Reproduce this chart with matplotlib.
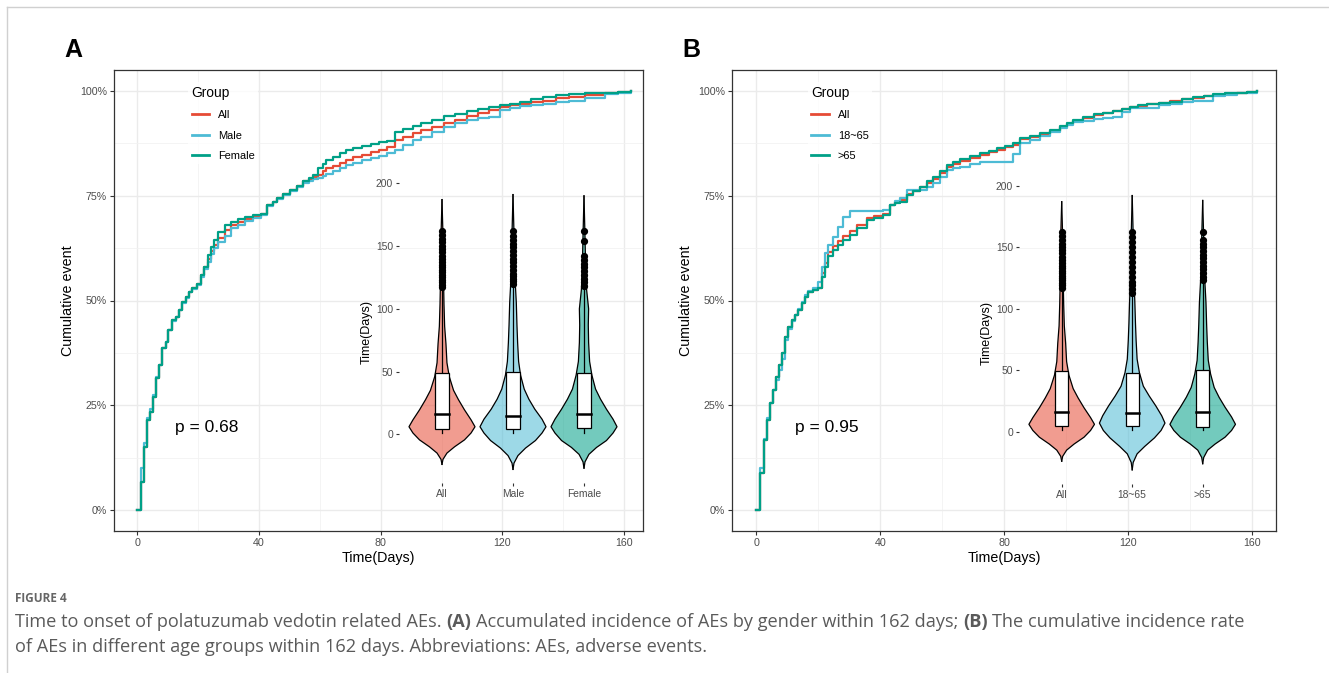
import matplotlib
matplotlib.use("Agg")
import matplotlib.pyplot as plt
from matplotlib.lines import Line2D

W, H = 1329, 673
plt.rcParams['font.family'] = ['Liberation Sans', 'DejaVu Sans']

# ggsci npg colours
COLORS = ['#E64B35', '#4DBBD5', '#00A087']

# ---- panel A: cumulative event by gender
A_GROUPS = ['All', 'Male', 'Female']
A_T = [0, 1.2, 2.4, 3.2, 4.3, 5.3, 6.2, 7.3, 8.3, 9.4, 10.3, 11.4, 12.7, 13.7, 14.8, 15.9,
       17.0, 18.0, 19.6, 21.1, 22.1, 23.4, 24.3, 25.3, 26.6, 28.8, 30.9, 33.0, 35.3,
       38, 40.6, 42.8, 44.5, 45.9, 48, 50.3, 52.5, 54.6, 56.5,
       57.9, 59.5, 61, 62.2, 64.5, 66.5, 68.6, 71, 74.0, 77,
       79.4, 82, 84.8, 87.5, 90.5, 93.4, 97, 100.9, 104.5, 108.4,
       112, 115.5, 119.2, 122.5, 125.7, 129.5, 133.2, 137.5, 141.8, 147,
       153.6, 158, 162.3]
A_ALL = [0, .068, .15, .215, .235, .27, .315, .346, .386, .40, .43, .453, .46, .477, .497, .509,
         .521, .53, .54, .56, .58, .600, .618, .632, .650, .668, .680, .688, .695,
         .700, .706, .728, .736, .744, .754, .764, .774, .784, .791,
         .795, .80, .808, .815, .822, .829, .835, .842, .848, .854,
         .859, .867, .883, .891, .899, .907, .915, .923, .931, .94,
         .948, .955, .962, .966, .970, .974, .977, .982, .986, .990,
         .996, .998, 1.0]
A_MALE = [0, .10, .16, .22, .24, .275, .318, .346, .386, .40, .43, .45, .46, .477, .495, .507,
          .52, .528, .538, .556, .575, .592, .610, .625, .640, .655, .672, .681, .690,
          .697, .704, .725, .734, .742, .752, .762, .771, .780, .786,
          .79, .792, .798, .803, .810, .817, .823, .829, .835, .840,
          .845, .852, .860, .872, .882, .891, .903, .915, .923, .931,
          .935, .939, .955, .960, .964, .967, .970, .974, .977, .984,
          .992, .996, 1.0]
A_FEMALE = [0, .068, .15, .215, .235, .27, .315, .346, .386, .40, .43, .453, .46, .477, .497, .509,
            .521, .53, .54, .56, .58, .608, .628, .644, .664, .68, .688, .694, .70,
            .703, .706, .728, .736, .744, .754, .764, .774, .784, .792,
            .80, .815, .826, .835, .843, .851, .859, .864, .869, .874,
            .879, .881, .903, .909, .916, .923, .931, .94, .945, .951,
            .956, .961, .967, .970, .974, .98, .986, .99, .993, .994,
            .996, .998, 1.0]

# ---- panel B: cumulative event by age
B_GROUPS = ['All', '18~65', '>65']
B_T = [0, 1.2, 2.4, 3.3, 4.4, 5.2, 6.3, 7.4, 8.1, 9.2, 10.3, 11.4, 12.4, 13.5, 14.6, 15.7,
       16.7, 18.3, 20.0, 21.1, 22.1, 23.2, 24.8, 26.4, 28.0, 30.2, 32.4, 35.6,
       38, 40.9, 43.1, 44.8, 46.3, 48.5, 50.5, 52.8, 55, 57.1,
       59.3, 61.4, 63.5, 65.7, 69, 72.2, 75, 77.6, 80.3, 82.9,
       85.1, 88.3, 91.5, 94.8, 98.0, 100.2, 102.3, 105.5, 108.8, 112,
       115.2, 118, 120.6, 123.3, 126.0, 129.8, 133.5, 137.3, 141.0, 144.3,
       147.5, 151.3, 155.1, 158.3, 161.5]
B_ALL = [0, .088, .167, .215, .255, .286, .318, .346, .374, .414, .437, .453, .465, .477, .493, .509,
         .521, .525, .529, .565, .590, .615, .630, .642, .654, .666, .680, .698,
         .702, .706, .728, .734, .740, .755, .762, .770, .780, .790,
         .804, .818, .826, .833, .840, .848, .854, .860, .866, .872,
         .885, .891, .897, .905, .913, .921, .928, .936, .943, .947,
         .951, .957, .962, .965, .968, .972, .976, .980, .984, .987,
         .990, .993, .996, .998, 1.0]
B_YOUNG = [0, .10, .17, .22, .255, .286, .31, .335, .36, .405, .432, .45, .465, .48, .497, .512,
           .522, .53, .545, .58, .613, .632, .652, .676, .700, .714, .714, .714,
           .714, .716, .728, .737, .745, .764, .764, .764, .772, .780,
           .795, .811, .815, .819, .825, .831, .831, .831, .831, .850,
           .875, .884, .893, .903, .912, .919, .925, .929, .933, .936,
           .939, .950, .959, .959, .959, .967, .970, .973, .977, .977,
           .988, .990, .996, .996, 1.0]
B_OLD = [0, .088, .167, .215, .255, .286, .318, .346, .374, .414, .437, .453, .465, .477, .493, .509,
         .521, .525, .529, .557, .581, .605, .621, .632, .644, .656, .672, .692,
         .698, .704, .728, .732, .736, .752, .762, .772, .784, .795,
         .809, .823, .830, .837, .844, .851, .857, .863, .869, .875,
         .887, .893, .899, .908, .916, .924, .931, .938, .945, .948,
         .951, .957, .962, .966, .970, .972, .974, .980, .985, .989,
         .993, .994, .996, .998, 1.0]

# ---- violin outlines (days, relative half width)
V_ALL_D = [-24, -20, -15, -10, -4.5, 1, 6, 11.5, 19.5, 27.5, 35, 46, 57, 72, 86, 104, 118, 131, 158, 187]
V_ALL_W = [0, .03, .15, .38, .68, .88, 1.0, .88, .68, .5, .35, .22, .15, .12, .08, .06, .05, .04, .03, 0]
V_MALE_D = [-28, -23, -17, -11, -5, 1, 6, 12, 20, 28, 36, 47, 58, 73, 87, 105, 120, 133, 160, 191]
V_MALE_W = [0, .03, .15, .38, .68, .88, 1.0, .88, .66, .48, .34, .23, .17, .14, .12, .10, .07, .05, .03, 0]
V_FEMALE_D = [-27, -22, -16, -10.5, -5, 1, 6, 12, 20, 28, 36, 47, 58, 73, 87, 100, 115, 133, 158, 190]
V_FEMALE_W = [0, .03, .15, .38, .68, .88, 1.0, .88, .68, .5, .35, .24, .17, .14, .13, .14, .08, .05, .03, 0]
V_YOUNG_D = [-31, -25, -18, -12, -5, 1, 7, 13, 21, 29, 37, 48, 59, 74, 88, 106, 120, 134, 160, 192]
V_YOUNG_W = [0, .03, .15, .38, .68, .88, 1.0, .9, .72, .52, .34, .22, .15, .12, .10, .08, .06, .05, .03, 0]
V_OLD_D = [-26, -21, -15, -10, -4.5, 1, 6, 12, 20, 28, 36, 47, 58, 73, 87, 105, 120, 133, 158, 188]
V_OLD_W = [0, .03, .15, .38, .68, .88, 1.0, .88, .68, .5, .35, .24, .17, .14, .12, .10, .07, .05, .03, 0]

# box stats: q1, median, q3, lower whisker, upper whisker
BOX_ALL = [4.5, 16, 49, 1, 116]
BOX_MALE = [4, 14.6, 50, 1, 119]
BOX_FEMALE = [5, 16, 48.6, 1, 117]
BOX_YOUNG = [4.6, 14.9, 47.4, 1, 112]
BOX_OLD = [3.5, 16.3, 50.1, 1, 122]

OUT_ALL = [117, 119, 121, 123, 125, 127, 129, 131, 133, 135, 137, 140, 142, 145, 148, 150, 153, 156, 159, 162]
OUT_MALE = [120, 122, 124, 126, 128, 131, 134, 137, 140, 143, 146, 149, 152, 155, 158, 162]
OUT_FEMALE = [118, 121, 124, 127, 130, 133, 136, 139, 142, 154, 162]
OUT_YOUNG = [113, 116, 119, 122, 126, 130, 134, 138, 142, 146, 150, 154, 158, 162]
OUT_OLD = [123, 126, 129, 132, 135, 138, 141, 144, 147, 150, 153, 156, 162]

P_A = 'p = 0.68'
P_B = 'p = 0.95'

fig = plt.figure(figsize=(W / 100, H / 100), dpi=100)


def px_axes(x0, y0, x1, y1):
    return fig.add_axes([x0 / W, 1 - y1 / H, (x1 - x0) / W, (y1 - y0) / H])


def main_panel(box, xlim, times, series, groups, ptext, letter):
    ax = px_axes(*box)
    for vals, col in zip(series, COLORS):
        ax.plot(times, vals, drawstyle='steps-post', color=col, lw=1.6)
    ax.set_xlim(*xlim)
    ax.set_ylim(-0.05, 1.05)
    ax.set_xticks([0, 40, 80, 120, 160])
    ax.set_xticks([20, 60, 100, 140], minor=True)
    ax.set_yticks([0, .25, .5, .75, 1.0])
    ax.set_yticklabels(['0%', '25%', '50%', '75%', '100%'])
    ax.set_yticks([.125, .375, .625, .875], minor=True)
    ax.grid(which='major', color='#EBEBEB', lw=1.0)
    ax.grid(which='minor', color='#F2F2F2', lw=0.6)
    ax.set_axisbelow(True)
    for s in ax.spines.values():
        s.set_color('#333333')
        s.set_linewidth(0.9)
    ax.tick_params(which='major', length=3, width=0.8, color='#333333',
                   labelsize=7.7, labelcolor='#4D4D4D', pad=2)
    ax.tick_params(which='minor', length=0)
    ax.set_xlabel('Time(Days)', fontsize=10.3, labelpad=2)
    ax.set_ylabel('Cumulative event', fontsize=10.3, labelpad=4)
    ax.text(0.115, 0.225, ptext, transform=ax.transAxes, fontsize=12.5, va='center')
    handles = [Line2D([], [], color=c, lw=2) for c in COLORS]
    leg = ax.legend(handles, groups, title='Group', loc='upper left',
                    bbox_to_anchor=(0.13, 0.985), frameon=True, fontsize=7.9,
                    title_fontsize=9.9, handlelength=1.6, handletextpad=0.8,
                    labelspacing=0.95, borderpad=0.3, alignment='left')
    leg.get_frame().set_edgecolor('none')
    leg.get_frame().set_facecolor('white')
    fig.text((box[0] - 50) / W, 1 - 50 / H, letter, fontsize=18, fontweight='bold',
             va='center', ha='left')
    return ax


def inset(box, ylim, labels, outlines, boxes, outliers):
    ax = px_axes(*box)
    ax.patch.set_alpha(0)
    for i, ((d, w), st, outs, col) in enumerate(zip(outlines, boxes, outliers, COLORS)):
        pos = i + 1
        left = [pos - v * 0.465 for v in w]
        right = [pos + v * 0.465 for v in w]
        ax.fill_betweenx(d, left, right, facecolor=col, alpha=0.55, edgecolor='none')
        ax.plot(left, d, color='black', lw=0.9)
        ax.plot(right, d, color='black', lw=0.9)
        q1, med, q3, lo, hi = st
        ax.plot([pos, pos], [q3, hi], color='black', lw=0.9)
        ax.plot([pos, pos], [lo, q1], color='black', lw=0.9)
        ax.add_patch(plt.Rectangle((pos - 0.095, q1), 0.19, q3 - q1, facecolor='white',
                                   edgecolor='black', lw=0.9, zorder=3))
        ax.plot([pos - 0.095, pos + 0.095], [med, med], color='black', lw=1.8, zorder=4)
        ax.plot([pos] * len(outs), outs, 'o', color='black', ms=4.2, zorder=4)
    ax.set_xlim(0.4, 3.6)
    ax.set_ylim(*ylim)
    ax.set_xticks([1, 2, 3])
    ax.set_xticklabels(labels)
    ax.set_yticks([0, 50, 100, 150, 200])
    for s in ax.spines.values():
        s.set_visible(False)
    ax.tick_params(length=2.5, width=0.8, color='#333333', labelsize=7.4,
                   labelcolor='#4D4D4D', pad=2)
    ax.set_ylabel('Time(Days)', fontsize=9, labelpad=2)
    return ax


main_panel((114, 70, 643, 531), (-7.6, 166.2), A_T, [A_ALL, A_MALE, A_FEMALE],
           A_GROUPS, P_A, 'A')
main_panel((732, 70, 1276, 531), (-7.9, 167.7), B_T, [B_ALL, B_YOUNG, B_OLD],
           B_GROUPS, P_B, 'B')

inset((399.4, 180.8, 626.6, 483.2), (-39, 202), A_GROUPS,
      [(V_ALL_D, V_ALL_W), (V_MALE_D, V_MALE_W), (V_FEMALE_D, V_FEMALE_W)],
      [BOX_ALL, BOX_MALE, BOX_FEMALE], [OUT_ALL, OUT_MALE, OUT_FEMALE])
inset((1019.4, 181.8, 1245, 483.6), (-42.2, 203.2), B_GROUPS,
      [(V_ALL_D, V_ALL_W), (V_YOUNG_D, V_YOUNG_W), (V_OLD_D, V_OLD_W)],
      [BOX_ALL, BOX_YOUNG, BOX_OLD], [OUT_ALL, OUT_YOUNG, OUT_OLD])

# page frame lines
fig.add_artist(Line2D([7 / W, 1], [1 - 7 / H, 1 - 7 / H], color='#D0D0D0', lw=1))
fig.add_artist(Line2D([7 / W, 7 / W], [0, 1 - 7 / H], color='#D0D0D0', lw=1))

# caption
CAP_COLOR = '#5A5A5A'
CAP_FONT = ['Open Sans', 'DejaVu Sans']
fig.text(15 / W, 1 - 599 / H, 'FIGURE 4', fontsize=8.5, color='#666666',
         family=CAP_FONT, fontweight='bold', va='center')

renderer = fig.canvas.get_renderer()


def rich_line(x, y, parts, size=13.1):
    probe = fig.text(0, 0, 'a a', fontsize=size, family=CAP_FONT)
    probe2 = fig.text(0, 0, 'aa', fontsize=size, family=CAP_FONT)
    space = probe.get_window_extent(renderer).width - probe2.get_window_extent(renderer).width
    probe.remove()
    probe2.remove()
    for s, bold in parts:
        t = fig.text(x / W, 1 - y / H, s, fontsize=size, color=CAP_COLOR, family=CAP_FONT,
                     fontweight='bold' if bold else 'normal', va='center')
        x += t.get_window_extent(renderer).width + space


rich_line(15, 622, [('Time to onset of polatuzumab vedotin related AEs.', False), ('(A)', True),
                    ('Accumulated incidence of AEs by gender within 162 days;', False), ('(B)', True),
                    ('The cumulative incidence rate', False)])
rich_line(15, 647, [('of AEs in different age groups within 162 days. Abbreviations: AEs, adverse events.', False)])

fig.savefig('out.png', dpi=100)
